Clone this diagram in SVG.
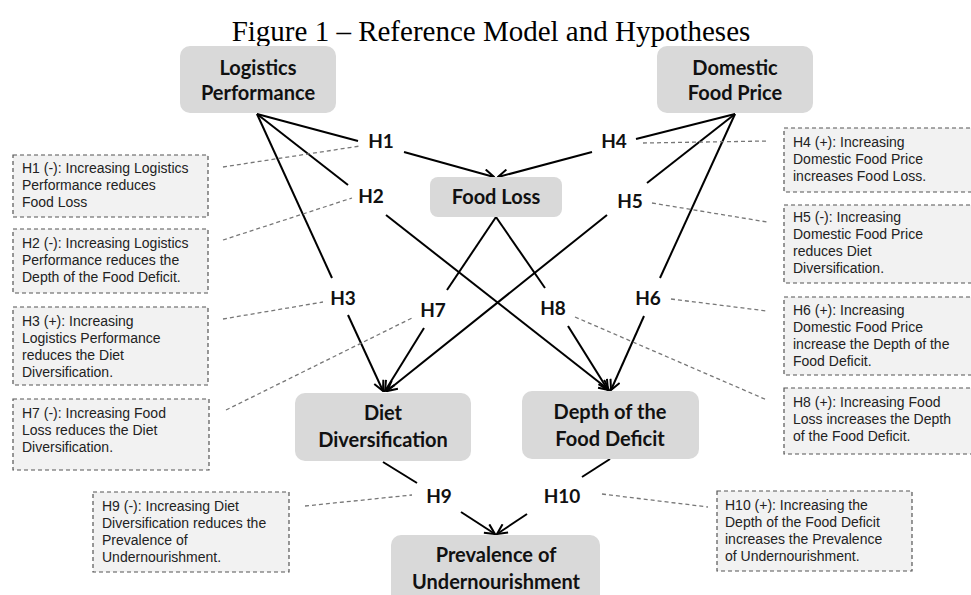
<svg xmlns="http://www.w3.org/2000/svg" width="971" height="595" viewBox="0 0 971 595">
<style>
.title{font-family:"Liberation Serif",serif;font-size:29px;fill:#000}
.node rect{fill:#d9d9d9;stroke:none}
.node text{font-family:Lato,"Open Sans",sans-serif;font-weight:bold;font-size:20px;fill:#111;text-anchor:middle}
.hl{font-family:Lato,"Open Sans",sans-serif;font-weight:bold;font-size:19px;fill:#111;text-anchor:middle}
.note rect{fill:#f2f2f2;stroke:#555;stroke-width:1.2;stroke-dasharray:4 3}
.note text{font-family:"Liberation Sans",Arial,sans-serif;font-size:14px;fill:#222}
.edge{stroke:#000;stroke-width:2;fill:none}
.arr{marker-end:url(#ah)}
.lead{stroke:#777;stroke-width:1.3;stroke-dasharray:4 3;fill:none}
</style>
<defs>
<marker id="ah" viewBox="0 0 12 12" refX="11" refY="6" markerWidth="12" markerHeight="12" markerUnits="userSpaceOnUse" orient="auto">
<path d="M1,1 L11,6 L1,11" fill="none" stroke="#000" stroke-width="2"/>
</marker>
</defs>
<rect width="971" height="595" fill="#fff"/>
<text class="title" x="491" y="41" text-anchor="middle">Figure 1 – Reference Model and Hypotheses</text>

<g id="connectors">
<line class="edge" x1="257" y1="114" x2="358" y2="141"/>
<line class="edge" x1="257" y1="114" x2="348" y2="185"/>
<line class="edge" x1="257" y1="114" x2="332" y2="278"/>
<line class="edge arr" x1="404" y1="152" x2="494" y2="177"/>
<line class="edge" x1="735" y1="114" x2="636" y2="139"/>
<line class="edge" x1="735" y1="114" x2="647" y2="183"/>
<line class="edge" x1="735" y1="114" x2="660" y2="278"/>
<line class="edge arr" x1="592" y1="152" x2="498" y2="177"/>
<line class="edge arr" x1="386" y1="215" x2="609" y2="390"/>
<line class="edge arr" x1="348" y1="315" x2="383" y2="391"/>
<line class="edge" x1="496" y1="217" x2="447" y2="290"/>
<line class="edge" x1="496" y1="217" x2="545" y2="288"/>
<line class="edge arr" x1="424" y1="328" x2="385" y2="391"/>
<line class="edge arr" x1="568" y1="326" x2="608" y2="390"/>
<line class="edge arr" x1="607" y1="215" x2="387" y2="391"/>
<line class="edge arr" x1="644" y1="316" x2="611" y2="390"/>
<line class="edge" x1="383" y1="462" x2="417" y2="483"/>
<line class="edge" x1="610" y1="459" x2="582" y2="477"/>
<line class="edge arr" x1="461" y1="512" x2="495" y2="534"/>
<line class="edge arr" x1="527" y1="514" x2="497" y2="534"/>
<line class="lead" x1="223" y1="167" x2="360" y2="146"/>
<line class="lead" x1="223" y1="240" x2="352" y2="198"/>
<line class="lead" x1="223" y1="319" x2="323" y2="302"/>
<line class="lead" x1="226" y1="410" x2="412" y2="318"/>
<line class="lead" x1="643" y1="143" x2="768" y2="141"/>
<line class="lead" x1="652" y1="203" x2="767" y2="222"/>
<line class="lead" x1="671" y1="299" x2="767" y2="311"/>
<line class="lead" x1="575" y1="317" x2="767" y2="400"/>
<line class="lead" x1="305" y1="506" x2="412" y2="495"/>
<line class="lead" x1="602" y1="494" x2="708" y2="507"/>
</g>

<g id="labels">
<text class="hl" x="381" y="148">H1</text>
<text class="hl" x="371" y="203">H2</text>
<text class="hl" x="343" y="305">H3</text>
<text class="hl" x="614" y="148">H4</text>
<text class="hl" x="630" y="208">H5</text>
<text class="hl" x="648" y="305">H6</text>
<text class="hl" x="433" y="317">H7</text>
<text class="hl" x="553" y="315">H8</text>
<text class="hl" x="439" y="503">H9</text>
<text class="hl" x="562" y="503">H10</text>
</g>

<g id="n-logistics" class="node"><rect x="180" y="46" width="156" height="67" rx="10"/><text x="258" y="75">Logistics</text><text x="258" y="100">Performance</text></g>
<g id="n-price" class="node"><rect x="657" y="46" width="156" height="67" rx="10"/><text x="735" y="75">Domestic</text><text x="735" y="100">Food Price</text></g>
<g id="n-loss" class="node"><rect x="430" y="177" width="132" height="40" rx="8"/><text x="496" y="204">Food Loss</text></g>
<g id="n-diet" class="node"><rect x="295" y="393" width="176" height="68" rx="10"/><text x="383" y="420">Diet</text><text x="383" y="447">Diversification</text></g>
<g id="n-depth" class="node"><rect x="522" y="391" width="177" height="68" rx="10"/><text x="610" y="419">Depth of the</text><text x="610" y="446">Food Deficit</text></g>
<g id="n-prev" class="node"><rect x="391" y="535" width="209" height="75" rx="10"/><text x="496" y="562">Prevalence of</text><text x="496" y="589">Undernourishment</text></g>

<g id="note-h1" class="note"><rect x="13" y="155" width="195" height="62"/><text x="22" y="173">H1 (-): Increasing Logistics</text><text x="22" y="190">Performance reduces</text><text x="22" y="207">Food Loss</text></g>
<g id="note-h2" class="note"><rect x="13" y="229" width="195" height="64"/><text x="22" y="248">H2 (-): Increasing Logistics</text><text x="22" y="265">Performance reduces the</text><text x="22" y="282">Depth of the Food Deficit.</text></g>
<g id="note-h3" class="note"><rect x="13" y="307" width="195" height="78"/><text x="22" y="326">H3 (+): Increasing</text><text x="22" y="343">Logistics Performance</text><text x="22" y="360">reduces the Diet</text><text x="22" y="377">Diversification.</text></g>
<g id="note-h7" class="note"><rect x="13" y="399" width="196" height="71"/><text x="22" y="418">H7 (-): Increasing Food</text><text x="22" y="435">Loss reduces the Diet</text><text x="22" y="452">Diversification.</text></g>
<g id="note-h4" class="note"><rect x="784" y="128" width="195" height="64"/><text x="793" y="147">H4 (+): Increasing</text><text x="793" y="164">Domestic Food Price</text><text x="793" y="181">increases Food Loss.</text></g>
<g id="note-h5" class="note"><rect x="784" y="205" width="195" height="78"/><text x="793" y="222">H5 (-): Increasing</text><text x="793" y="239">Domestic Food Price</text><text x="793" y="256">reduces Diet</text><text x="793" y="273">Diversification.</text></g>
<g id="note-h6" class="note"><rect x="784" y="297" width="195" height="78"/><text x="793" y="315">H6 (+): Increasing</text><text x="793" y="332">Domestic Food Price</text><text x="793" y="349">increase the Depth of the</text><text x="793" y="366">Food Deficit.</text></g>
<g id="note-h8" class="note"><rect x="784" y="388" width="195" height="66"/><text x="793" y="407">H8 (+): Increasing Food</text><text x="793" y="424">Loss increases the Depth</text><text x="793" y="441">of the Food Deficit.</text></g>
<g id="note-h9" class="note"><rect x="93" y="492" width="196" height="80"/><text x="102" y="511">H9 (-): Increasing Diet</text><text x="102" y="528">Diversification reduces the</text><text x="102" y="545">Prevalence of</text><text x="102" y="562">Undernourishment.</text></g>
<g id="note-h10" class="note"><rect x="717" y="491" width="195" height="80"/><text x="725" y="510">H10 (+): Increasing the</text><text x="725" y="527">Depth of the Food Deficit</text><text x="725" y="544">increases the Prevalence</text><text x="725" y="561">of Undernourishment.</text></g>
</svg>
